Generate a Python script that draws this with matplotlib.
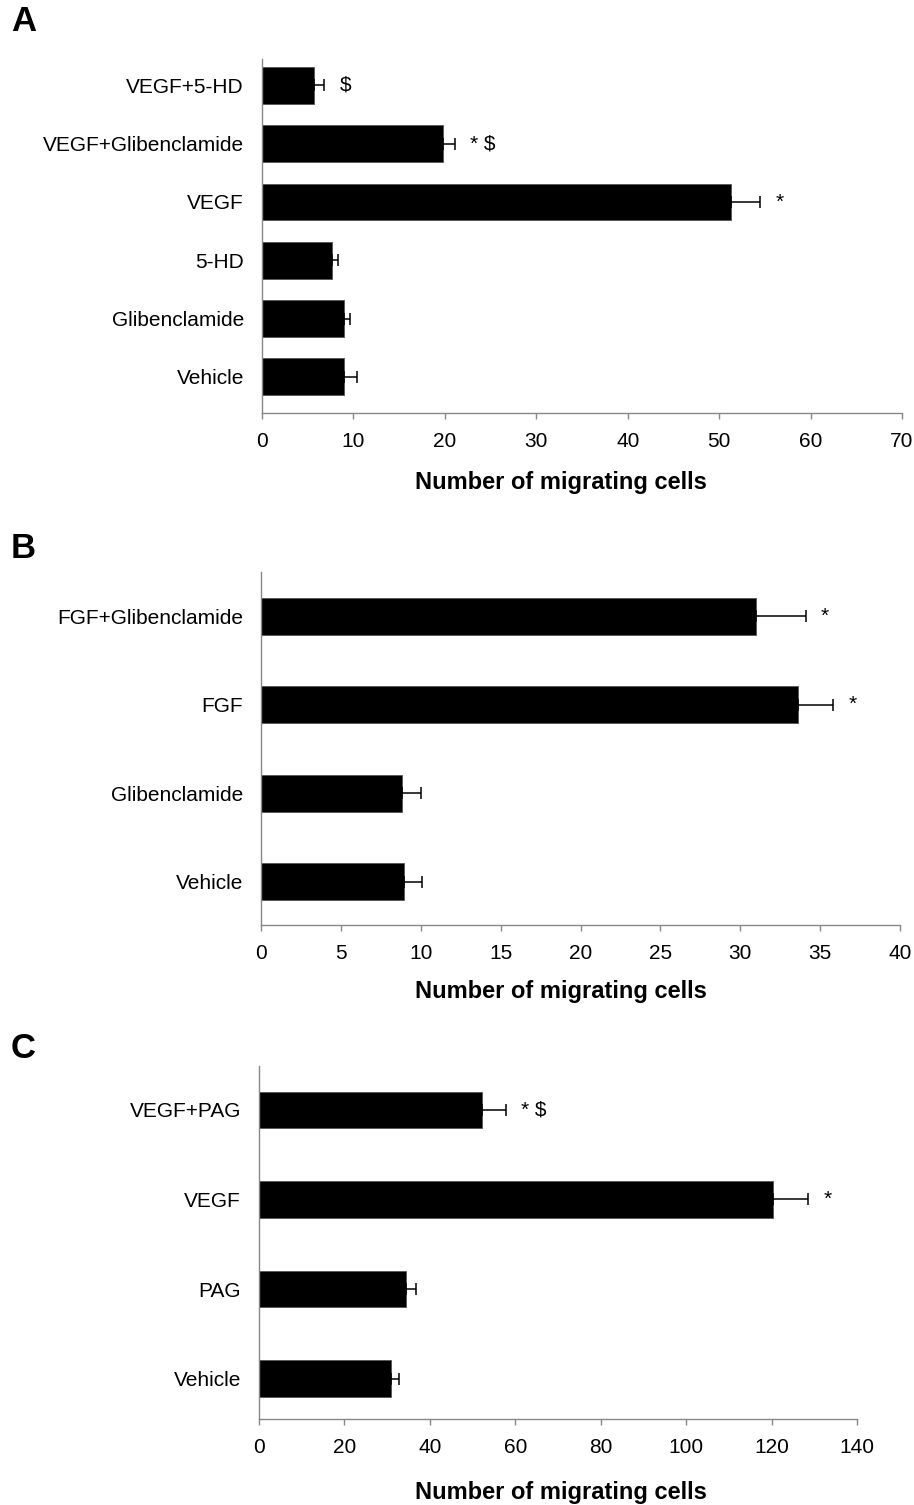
import numpy as np
import matplotlib.pyplot as plt

plt.rcParams['font.family'] = ['Liberation Sans', 'DejaVu Sans']

# panel A
a_labels = ['VEGF+5-HD', 'VEGF+Glibenclamide', 'VEGF', '5-HD', 'Glibenclamide', 'Vehicle']
a_means = [5.7, 19.8, 51.3, 7.7, 9.0, 9.0]
a_errs = [1.1, 1.3, 3.2, 0.65, 0.65, 1.4]
a_sig = ['$', '* $', '*', '', '', '']
a_ticks = [0, 10, 20, 30, 40, 50, 60, 70]

# panel B
b_labels = ['FGF+Glibenclamide', 'FGF', 'Glibenclamide', 'Vehicle']
b_means = [31.0, 33.6, 8.85, 8.95]
b_errs = [3.1, 2.2, 1.15, 1.15]
b_sig = ['*', '*', '', '']
b_ticks = [0, 5, 10, 15, 20, 25, 30, 35, 40]

# panel C
c_labels = ['VEGF+PAG', 'VEGF', 'PAG', 'Vehicle']
c_means = [52.2, 120.4, 34.3, 30.9]
c_errs = [5.6, 8.1, 2.4, 1.9]
c_sig = ['* $', '*', '', '']
c_ticks = [0, 20, 40, 60, 80, 100, 120, 140]

W, H = 914, 1505
fig = plt.figure(figsize=(W / 100, H / 100), dpi=100)


def panel(rect, labels, means, errs, sig, ticks, bar_h, pad_bot, pad_top, lab_xy):
    left, top, right, bottom = rect
    ax = fig.add_axes([left / W, 1 - bottom / H, (right - left) / W, (bottom - top) / H])
    n = len(labels)
    y = np.arange(n)
    ax.barh(y, means, height=bar_h, color='black', edgecolor='#555555', linewidth=0.6)
    ax.errorbar(means, y, xerr=[np.zeros(n), errs], fmt='none', ecolor='black',
                elinewidth=1.1, capsize=4, capthick=1.1)
    for i, s in enumerate(sig):
        if s:
            ax.annotate(s, xy=(means[i] + errs[i], y[i]), xytext=(11, 0),
                        textcoords='offset points', ha='left', va='center', fontsize=15)
    ax.set_yticks(y)
    ax.set_yticklabels(labels)
    ax.set_ylim(n - 1 + pad_bot, -pad_top)
    ax.set_xticks(ticks)
    ax.set_xlim(ticks[0], ticks[-1])
    for s in ['top', 'right']:
        ax.spines[s].set_visible(False)
    for s in ['left', 'bottom']:
        ax.spines[s].set_color('#888888')
        ax.spines[s].set_linewidth(1)
    ax.tick_params(axis='x', direction='out', length=4, width=1, color='#888888',
                   labelsize=15, pad=10)
    ax.tick_params(axis='y', length=0, labelsize=15, pad=13)
    ax.set_xlabel('Number of migrating cells', fontsize=17, fontweight='bold')
    ax.xaxis.set_label_coords(*lab_xy)
    return ax


panel((262, 59, 902, 413), a_labels, a_means, a_errs, a_sig, a_ticks,
      0.63, 0.62, 0.45, (0.467, -0.165))
panel((261, 572, 900, 925), b_labels, b_means, b_errs, b_sig, b_ticks,
      0.42, 0.49, 0.5, (0.4695, -0.155))
panel((259, 1066, 857, 1419), c_labels, c_means, c_errs, c_sig, c_ticks,
      0.41, 0.45, 0.49, (0.505, -0.175))

for letter, ytop in [('A', 5), ('B', 532), ('C', 1032)]:
    fig.text(11 / W, 1 - ytop / H, letter, fontsize=25, fontweight='bold',
             ha='left', va='top')

fig.savefig('out.png', dpi=100)
